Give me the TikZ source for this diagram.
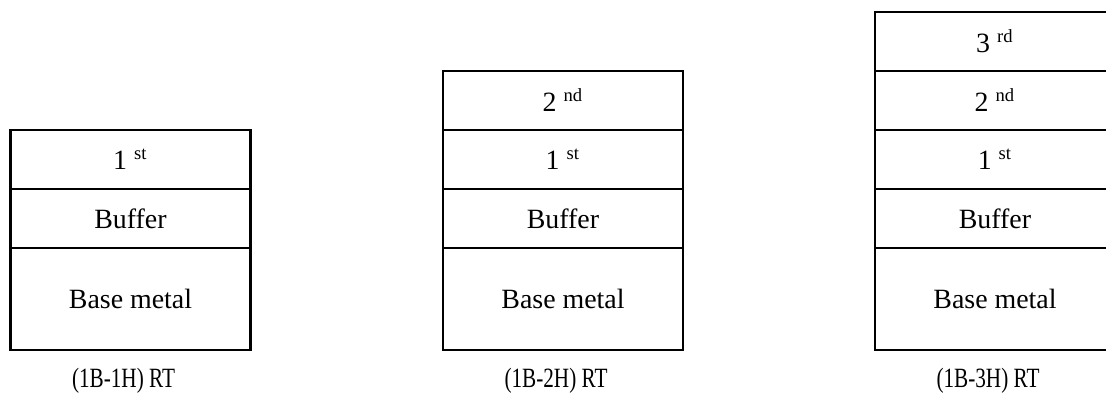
\documentclass[tikz,border=0pt]{standalone}
\usepackage{fontspec}
\setmainfont{Liberation Serif}
\usetikzlibrary{positioning}

\begin{document}
\begin{tikzpicture}[x=.43pt,y=-.43pt,font=\fontsize{12}{14}\selectfont,
  layer/.style={draw,line width=.9pt,inner sep=0pt,outer sep=0pt,minimum width=103.2pt,minimum height=25.4pt},
  basebox/.style={layer,minimum height=43.9pt}]
\clip (0,0) rectangle (1106,397);
\foreach \n/\x in {1/130.5,2/563,3/995}{
  \node[basebox] (base\n) at (\x,299) {Base metal};
  \node[layer,above=0pt of base\n] (buf\n) {Buffer};
  \node[layer,above=0pt of buf\n] (st\n) {1 \textsuperscript{st}};
  \node (cap\n) at (\x-7,381) {\scalebox{.76}[1]{(1B-\n H) RT}};
}
\node[layer,above=0pt of st2] (nd2) {2 \textsuperscript{nd}};
\node[layer,above=0pt of st3] (nd3) {2 \textsuperscript{nd}};
\node[layer,above=0pt of nd3] (rd3) {3 \textsuperscript{rd}};
\end{tikzpicture}
\end{document}
